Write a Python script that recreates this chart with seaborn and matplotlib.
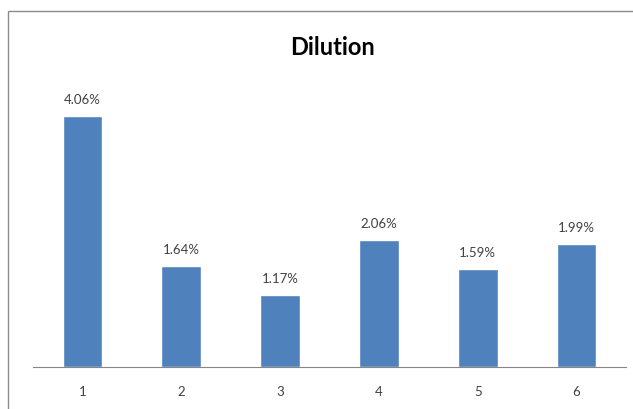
import pandas as pd
import matplotlib
matplotlib.use("Agg")
import matplotlib.pyplot as plt
import seaborn as sns
from matplotlib.patches import Rectangle

# Data
categories = ["1", "2", "3", "4", "5", "6"]
dilution = [4.06, 1.64, 1.17, 2.06, 1.59, 1.99]
labels = ["4.06%", "1.64%", "1.17%", "2.06%", "1.59%", "1.99%"]

df = pd.DataFrame({"run": categories, "dilution": dilution})

sns.set_style("white")
plt.rcParams["font.family"] = ["Lato", "DejaVu Sans"]

fig = plt.figure(figsize=(6.33, 4.10), dpi=100)
ax = fig.add_axes([0.052, 0.102, 0.937, 0.678])

sns.barplot(data=df, x="run", y="dilution", color="#4F81BD", saturation=1,
            width=0.4, ax=ax)

# value labels on top of bars
for i, (v, lab) in enumerate(zip(dilution, labels)):
    ax.annotate(lab, (i, v), xytext=(0, 8), textcoords="offset points",
                ha="center", va="bottom", fontsize=9.5, color="#404040")

ax.set_xlim(-0.5, 5.5)
ax.set_ylim(0, 4.5)
ax.set_xlabel("")
ax.set_ylabel("")
ax.set_yticks([])

# tick marks between categories, like Excel
ax.set_xticks([i - 0.5 for i in range(7)], minor=True)
ax.tick_params(axis="x", which="minor", length=5, width=0.8, color="#868686",
               direction="out")
ax.tick_params(axis="x", which="major", length=0, pad=13, labelsize=9.5,
               labelcolor="#404040")

for side in ["top", "right", "left"]:
    ax.spines[side].set_visible(False)
ax.spines["bottom"].set_color("#868686")
ax.spines["bottom"].set_linewidth(0.8)

fig.text(0.526, 0.883, "Dilution", ha="center", va="center",
         fontsize=17, fontweight="bold", color="black")

# chart border (extends off the right and bottom edges)
fig.patches.append(Rectangle((8 / 633, -0.05), 1.0, 0.05 + (410 - 12) / 410,
                             transform=fig.transFigure, fill=False,
                             edgecolor="#8c8c8c", linewidth=1.0))

fig.savefig("out.png", dpi=100)
plt.close(fig)
